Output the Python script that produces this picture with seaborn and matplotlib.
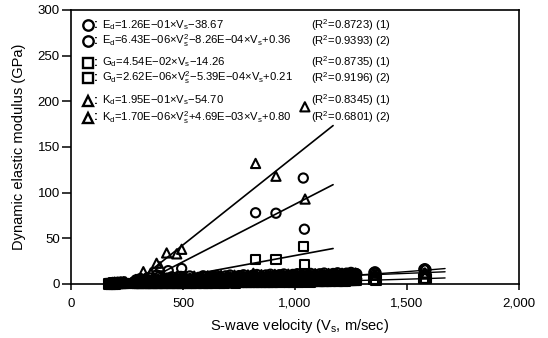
import numpy as np
import pandas as pd
import matplotlib
matplotlib.use("Agg")
import matplotlib.pyplot as plt
import seaborn as sns

# ---------------------------------------------------------------- data
x_ticks = [0, 500, 1000, 1500, 2000]
x_tick_labels = ["0", "500", "1,000", "1,500", "2,000"]
y_ticks = [0, 50, 100, 150, 200, 250, 300]

# S-wave velocity of the low-modulus samples, first series (m/sec)
band_vs = [168, 174, 179, 185, 190, 196, 203, 210, 217, 224, 231, 238, 244,
           282, 291, 300, 309, 318, 327, 336, 345, 354, 363, 372, 381, 390,
           399, 408, 417, 426, 435, 444, 453, 462, 471, 480, 489, 498,
           508, 518, 528, 538, 548, 558, 568, 578, 588, 598,
           608, 618, 628, 638, 648, 658, 668, 678, 688, 698,
           708, 718, 728, 738, 748, 758, 768, 778, 788, 798,
           808, 818, 828, 838, 848, 858, 868, 878, 888, 898,
           908, 918, 928, 938, 948, 958, 968, 978, 988, 998,
           1008, 1018, 1028, 1038, 1048, 1058, 1068, 1078, 1088, 1098,
           1108, 1118, 1128, 1138, 1148, 1158, 1168, 1178, 1188, 1198,
           1208, 1218, 1228, 1238, 1248, 1258, 1268, 1276,
           1352, 1357, 1362, 1575, 1580, 1585]

# Young's modulus Ed (GPa)
band_e = [0.3, 0.4, 0.3, 0.5, 0.4, 0.6, 0.5, 0.7, 0.6, 0.8, 0.7, 0.9, 0.8,
          0.8, 2.1, 1.2, 3.5, 0.9, 2.8, 1.6, 4.2, 1.1, 2.5, 3.8, 1.4, 2.9,
          0.7, 3.3, 1.9, 4.6, 1.3, 2.7, 5.1, 1.8, 3.0, 2.2, 4.4, 1.5,
          3.6, 1.9, 4.8, 2.4, 5.5, 2.0, 3.9, 5.9, 2.6, 4.3,
          3.1, 6.2, 2.5, 4.7, 3.4, 6.6, 2.9, 5.2, 4.0, 6.9,
          3.3, 5.6, 7.1, 4.1, 6.0, 3.7, 7.4, 4.9, 5.8, 3.5,
          6.4, 4.4, 7.6, 5.1, 3.9, 7.0, 5.7, 4.6, 7.8, 5.3,
          6.7, 4.8, 8.0, 5.9, 7.2, 4.5, 6.3, 8.2, 5.5, 7.5,
          6.1, 8.4, 5.0, 7.7, 6.8, 8.6, 5.6, 7.3, 8.9, 6.5,
          7.9, 9.1, 6.2, 8.3, 9.4, 7.0, 8.7, 9.8, 7.4, 9.0,
          10.2, 8.1, 9.6, 10.8, 8.8, 10.4, 9.3, 11.0,
          12.5, 13.4, 12.0, 16.0, 16.8, 15.6]

# Shear modulus Gd (GPa)
band_g = [0.1, 0.2, 0.1, 0.2, 0.2, 0.3, 0.2, 0.3, 0.3, 0.3, 0.3, 0.4, 0.3,
          0.3, 0.8, 0.5, 1.4, 0.4, 1.1, 0.6, 1.7, 0.4, 1.0, 1.5, 0.6, 1.2,
          0.3, 1.3, 0.8, 1.8, 0.5, 1.1, 2.0, 0.7, 1.2, 0.9, 1.8, 0.6,
          1.4, 0.8, 1.9, 1.0, 2.2, 0.8, 1.6, 2.4, 1.0, 1.7,
          1.2, 2.5, 1.0, 1.9, 1.4, 2.6, 1.2, 2.1, 1.6, 2.8,
          1.3, 2.2, 2.8, 1.6, 2.4, 1.5, 3.0, 2.0, 2.3, 1.4,
          2.6, 1.8, 3.0, 2.0, 1.6, 2.8, 2.3, 1.8, 3.1, 2.1,
          2.7, 1.9, 3.2, 2.4, 2.9, 1.8, 2.5, 3.3, 2.2, 3.0,
          2.4, 3.4, 2.0, 3.1, 2.7, 3.4, 2.2, 2.9, 3.6, 2.6,
          3.2, 3.6, 2.5, 3.3, 3.8, 2.8, 3.5, 3.9, 3.0, 3.6,
          4.1, 3.2, 3.8, 4.3, 3.5, 4.2, 3.7, 4.4,
          4.5, 5.0, 4.3, 6.0, 6.5, 5.8]

# Bulk modulus Kd (GPa)
band_k = [1.2, 1.5, 1.3, 1.8, 1.6, 2.0, 1.7, 2.1, 1.9, 2.3, 2.0, 2.4, 2.2,
          2.2, 3.0, 1.8, 4.1, 2.5, 3.6, 2.0, 4.8, 2.9, 3.3, 5.0, 2.4, 3.9,
          2.1, 4.5, 3.1, 5.4, 2.6, 4.0, 5.8, 3.2, 4.3, 3.5, 5.6, 2.8,
          4.6, 3.0, 5.9, 3.7, 6.3, 3.4, 5.0, 6.6, 3.9, 5.4,
          4.2, 6.8, 3.8, 5.7, 4.7, 7.1, 4.4, 6.1, 5.2, 7.3,
          4.8, 6.5, 7.6, 5.3, 6.9, 5.0, 7.8, 6.0, 6.7, 5.1,
          7.2, 5.6, 8.0, 6.3, 5.4, 7.7, 6.6, 5.9, 8.2, 6.4,
          7.5, 6.1, 8.4, 6.8, 7.9, 6.0, 7.1, 8.6, 6.7, 8.0,
          7.3, 8.8, 6.6, 8.3, 7.6, 9.0, 7.0, 8.1, 9.2, 7.8,
          8.5, 9.4, 7.6, 8.9, 9.6, 8.2, 9.1, 9.9, 8.6, 9.3,
          10.1, 8.9, 9.7, 10.4, 9.2, 10.2, 9.5, 10.6,
          9.5, 10.2, 9.8, 11.5, 12.2, 11.0]

# Second series of low-modulus samples
band2_vs = [171, 177, 182, 188, 193, 199, 206, 213, 220, 227, 234, 241,
            286, 295, 304, 313, 322, 331, 340, 349, 358, 367, 376, 385,
            394, 403, 412, 421, 430, 439, 448, 457, 466, 475, 484, 493,
            503, 513, 523, 533, 543, 553, 563, 573, 583, 593,
            603, 613, 623, 633, 643, 653, 663, 673, 683, 693,
            703, 713, 723, 733, 743, 753, 763, 773, 783, 793,
            803, 813, 823, 833, 843, 853, 863, 873, 883, 893,
            903, 913, 923, 933, 943, 953, 963, 973, 983, 993,
            1003, 1013, 1023, 1033, 1043, 1053, 1063, 1073, 1083, 1093,
            1103, 1113, 1123, 1133, 1143, 1153, 1163, 1173, 1183, 1193,
            1203, 1213, 1223, 1233, 1243, 1253, 1263, 1272]

band2_e = [0.5, 0.2, 0.6, 0.4, 0.7, 0.3, 0.8, 0.5, 0.9, 0.6, 1.0, 0.7,
           1.5, 0.6, 2.6, 1.0, 3.9, 1.7, 0.9, 3.1, 2.0, 1.2, 4.4, 2.3,
           1.0, 3.6, 2.8, 1.4, 4.9, 2.1, 3.4, 1.6, 4.1, 2.6, 5.3, 1.9,
           2.8, 4.5, 1.6, 5.2, 3.0, 4.0, 2.2, 5.6, 3.5, 2.7,
           5.0, 2.4, 4.3, 6.4, 3.0, 5.5, 3.8, 6.1, 2.7, 4.8,
           6.7, 4.2, 5.1, 3.2, 6.9, 4.6, 5.9, 7.2, 3.8, 6.3,
           4.9, 7.3, 5.5, 4.1, 6.8, 7.7, 5.0, 6.2, 4.4, 7.1,
           5.6, 7.9, 6.5, 4.9, 8.1, 6.0, 7.0, 5.3, 8.3, 6.8,
           7.5, 5.7, 8.5, 6.9, 7.8, 6.0, 8.8, 7.2, 6.4, 9.0,
           8.0, 6.8, 9.3, 7.6, 8.6, 9.6, 7.2, 8.9, 10.0, 8.2,
           9.4, 10.5, 8.6, 9.9, 11.2, 9.0, 10.7, 11.5]

band2_g = [0.2, 0.1, 0.2, 0.1, 0.3, 0.1, 0.3, 0.2, 0.3, 0.2, 0.4, 0.3,
           0.6, 0.2, 1.0, 0.4, 1.5, 0.7, 0.3, 1.2, 0.8, 0.5, 1.7, 0.9,
           0.4, 1.4, 1.1, 0.5, 1.9, 0.8, 1.3, 0.6, 1.6, 1.0, 2.1, 0.7,
           1.1, 1.8, 0.6, 2.0, 1.2, 1.6, 0.9, 2.2, 1.4, 1.0,
           2.0, 0.9, 1.7, 2.5, 1.2, 2.2, 1.5, 2.4, 1.0, 1.9,
           2.6, 1.6, 2.0, 1.2, 2.7, 1.8, 2.3, 2.8, 1.5, 2.5,
           1.9, 2.9, 2.2, 1.6, 2.7, 3.0, 2.0, 2.4, 1.7, 2.8,
           2.2, 3.1, 2.6, 1.9, 3.2, 2.4, 2.8, 2.1, 3.3, 2.7,
           3.0, 2.2, 3.4, 2.7, 3.1, 2.4, 3.5, 2.9, 2.5, 3.6,
           3.2, 2.7, 3.7, 3.0, 3.4, 3.8, 2.9, 3.5, 4.0, 3.3,
           3.7, 4.2, 3.4, 3.9, 4.4, 3.6, 4.2, 4.5]

band2_k = [1.4, 1.1, 1.6, 1.3, 1.9, 1.5, 2.0, 1.7, 2.2, 1.8, 2.5, 2.0,
           2.7, 1.9, 3.4, 2.3, 4.6, 2.9, 2.1, 4.0, 3.2, 2.5, 5.2, 3.4,
           2.2, 4.7, 3.8, 2.7, 5.6, 3.3, 4.4, 3.0, 5.3, 3.7, 6.0, 3.1,
           4.0, 5.5, 3.3, 6.1, 4.3, 5.2, 3.6, 6.5, 4.7, 4.0,
           6.0, 3.9, 5.5, 7.0, 4.5, 6.4, 5.0, 6.9, 4.3, 5.9,
           7.2, 5.4, 6.2, 4.8, 7.5, 5.8, 6.8, 7.7, 5.2, 7.0,
           6.0, 7.9, 6.5, 5.5, 7.4, 8.1, 6.2, 7.1, 5.8, 7.8,
           6.7, 8.3, 7.3, 6.3, 8.5, 7.0, 7.8, 6.6, 8.7, 7.6,
           8.1, 7.0, 8.9, 7.8, 8.4, 7.3, 9.1, 8.0, 7.6, 9.3,
           8.7, 8.0, 9.5, 8.5, 9.1, 9.7, 8.3, 9.4, 9.9, 8.8,
           9.6, 10.3, 9.1, 9.9, 10.6, 9.4, 10.2, 10.8]

# Third series of low-modulus samples (upper part of the cloud)
band3_vs = [290, 310, 330, 350, 370, 390, 410, 430, 450, 470,
            490, 510, 530, 550, 570, 590, 610, 630, 650, 670,
            690, 710, 730, 750, 770, 790, 810, 830, 850, 870,
            890, 910, 930, 950, 970, 990, 1010, 1030, 1050, 1070,
            1090, 1110, 1130, 1150, 1170, 1190, 1210, 1230, 1250, 1270]
band3_e = [4.5, 6.0, 3.8, 6.8, 5.2, 7.4, 4.9, 6.5, 7.9, 5.6,
           8.3, 6.1, 8.8, 5.9, 7.3, 9.0, 6.4, 8.5, 9.4, 7.0,
           8.9, 9.8, 7.5, 9.2, 10.1, 8.0, 9.6, 10.4, 8.3, 9.9,
           10.7, 8.8, 10.2, 11.0, 9.1, 10.5, 11.3, 9.5, 10.9, 11.6,
           9.9, 11.2, 12.0, 10.3, 11.5, 12.3, 10.8, 11.9, 12.7, 11.3]
band3_g = [1.7, 2.3, 1.5, 2.6, 2.0, 2.9, 1.9, 2.5, 3.1, 2.2,
           3.3, 2.4, 3.5, 2.3, 2.9, 3.6, 2.5, 3.4, 3.7, 2.8,
           3.5, 3.9, 3.0, 3.7, 4.0, 3.2, 3.8, 4.1, 3.3, 3.9,
           4.3, 3.5, 4.1, 4.4, 3.6, 4.2, 4.5, 3.8, 4.3, 4.6,
           3.9, 4.5, 4.8, 4.1, 4.6, 4.9, 4.3, 4.8, 5.1, 4.5]
band3_k = [5.0, 3.6, 6.2, 4.3, 6.9, 4.8, 7.3, 5.5, 6.0, 7.8,
           5.9, 8.2, 6.4, 8.6, 6.9, 7.2, 8.9, 7.4, 7.9, 9.3,
           7.7, 8.1, 9.6, 8.4, 8.7, 9.9, 8.6, 9.0, 10.2, 8.9,
           9.3, 10.5, 9.2, 9.6, 10.8, 9.5, 9.9, 11.0, 9.8, 10.1,
           11.3, 10.0, 10.4, 11.5, 10.3, 10.7, 11.8, 10.6, 11.0, 12.0]

# High-modulus samples
e_high_vs = [382, 434, 494, 824, 915, 1037, 1042]
e_high = [10.0, 14.6, 17.0, 78.0, 77.5, 116.0, 60.0]
g_high_vs = [434, 494, 824, 915, 1037, 1042]
g_high = [6.0, 8.0, 27.0, 27.0, 41.0, 21.6]
k_high_vs = [323, 356, 382, 397, 427, 472, 494, 814, 824, 915, 1044, 1045]
k_high = [13.5, 12.0, 22.7, 19.0, 34.0, 33.0, 38.0, 11.7, 132.0, 118.0, 194.0, 93.0]

# Regression coefficients
e_lin = (1.26e-01, -38.67)
e_quad = (6.43e-06, -8.26e-04, 0.36)
g_lin = (4.54e-02, -14.26)
g_quad = (2.62e-06, -5.39e-04, 0.21)
k_lin = (1.95e-01, -54.70)
k_quad = (1.70e-06, 4.69e-03, 0.80)
lin_range = (310, 1170)
quad_range = (170, 1670)

legend_rows = [
    ("o", "E$_\\mathrm{d}$=1.26E−01×V$_\\mathrm{s}$−38.67", "(R$^2$=0.8723) (1)"),
    ("o", "E$_\\mathrm{d}$=6.43E−06×V$_\\mathrm{s}^2$−8.26E−04×V$_\\mathrm{s}$+0.36", "(R$^2$=0.9393) (2)"),
    ("s", "G$_\\mathrm{d}$=4.54E−02×V$_\\mathrm{s}$−14.26", "(R$^2$=0.8735) (1)"),
    ("s", "G$_\\mathrm{d}$=2.62E−06×V$_\\mathrm{s}^2$−5.39E−04×V$_\\mathrm{s}$+0.21", "(R$^2$=0.9196) (2)"),
    ("^", "K$_\\mathrm{d}$=1.95E−01×V$_\\mathrm{s}$−54.70", "(R$^2$=0.8345) (1)"),
    ("^", "K$_\\mathrm{d}$=1.70E−06×V$_\\mathrm{s}^2$+4.69E−03×V$_\\mathrm{s}$+0.80", "(R$^2$=0.6801) (2)"),
]

# ---------------------------------------------------------------- style
sns.set_theme(style="ticks")
plt.rcParams["font.family"] = ["Liberation Sans", "DejaVu Sans"]
plt.rcParams.update({
    "mathtext.fontset": "custom",
    "mathtext.rm": "Liberation Sans",
    "mathtext.it": "Liberation Sans:italic",
    "mathtext.bf": "Liberation Sans:bold",
    "axes.edgecolor": "black",
    "text.color": "black",
    "axes.labelcolor": "black",
    "xtick.color": "black",
    "ytick.color": "black",
})

fig = plt.figure(figsize=(5.48, 3.38), dpi=100)
ax = fig.add_axes([71 / 548, 54 / 338, 448 / 548, 274 / 338])

# ---------------------------------------------------------------- points
point_kw = dict(s=44, facecolors="none", edgecolor="black", linewidth=1.5,
                clip_on=False, legend=False, ax=ax, zorder=3)

df_e = pd.DataFrame({"Vs": band_vs + band2_vs + band3_vs + e_high_vs,
                     "M": band_e + band2_e + band3_e + e_high})
df_g = pd.DataFrame({"Vs": band_vs + band2_vs + band3_vs + g_high_vs,
                     "M": band_g + band2_g + band3_g + g_high})
df_k = pd.DataFrame({"Vs": band_vs + band2_vs + band3_vs + k_high_vs,
                     "M": band_k + band2_k + band3_k + k_high})

sns.scatterplot(data=df_g, x="Vs", y="M", marker="s", **point_kw)
sns.scatterplot(data=df_k, x="Vs", y="M", marker="^", **point_kw)
sns.scatterplot(data=df_e, x="Vs", y="M", marker="o", **point_kw)

# ---------------------------------------------------------------- fit lines
xl = np.linspace(*lin_range, 60)
xq = np.linspace(*quad_range, 120)
for a, b in (e_lin, g_lin, k_lin):
    sns.lineplot(x=xl, y=a * xl + b, color="black", linewidth=1.2, ax=ax, zorder=4)
for a, b, c in (e_quad, g_quad, k_quad):
    sns.lineplot(x=xq, y=a * xq ** 2 + b * xq + c, color="black", linewidth=1.0,
                 ax=ax, zorder=4, clip_on=False)

# ---------------------------------------------------------------- axes
ax.set_xlim(0, 2000)
ax.set_ylim(0, 300)
ax.set_xticks(x_ticks)
ax.set_xticklabels(x_tick_labels)
ax.set_yticks(y_ticks)
ax.set_xlabel("")
ax.set_ylabel("")
for sp in ax.spines.values():
    sp.set_visible(True)
    sp.set_linewidth(1.2)
    sp.set_color("black")
ax.tick_params(axis="y", direction="out", length=6.5, width=1.1, pad=1.5, labelsize=9.5)
ax.tick_params(axis="x", direction="out", length=4, width=1.1, pad=6, labelsize=9.5)

fig.text(19 / 548, 1 - 147 / 338, "Dynamic elastic modulus (GPa)", rotation=90,
         ha="center", va="center", fontsize=10.5)
fig.text(300 / 548, 1 - 326 / 338, "S-wave velocity (V$_\\mathrm{s}$, m/sec)",
         ha="center", va="center", fontsize=10.5)

# ---------------------------------------------------------------- equation key
row_px = [25, 41, 62.5, 78, 100.5, 117.5]
for (mk, eq, r2), ypx in zip(legend_rows, row_px):
    yf = 1 - (ypx - 10) / 274
    ax.plot([(88 - 71) / 448], [yf], marker=mk, ms=7.5 if mk != "s" else 6.5,
            mfc="none", mec="black", mew=1.7, transform=ax.transAxes,
            clip_on=False, zorder=5)
    ax.text((94 - 71) / 448, yf, ":", transform=ax.transAxes,
            ha="left", va="center", fontsize=8.5, fontweight="bold")
    ax.text((102 - 71) / 448, yf, eq, transform=ax.transAxes,
            ha="left", va="center", fontsize=8.1)
    ax.text((311 - 71) / 448, yf, r2, transform=ax.transAxes,
            ha="left", va="center", fontsize=8.1)

fig.savefig("out.png", dpi=100)
